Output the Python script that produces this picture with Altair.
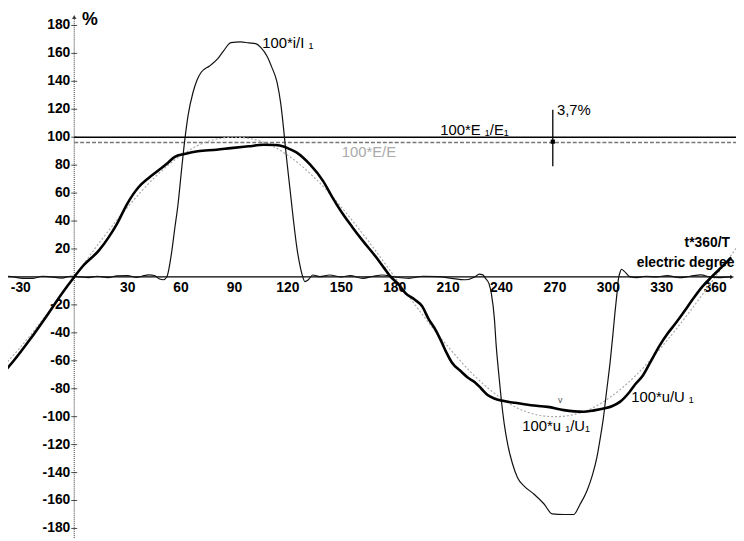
import altair as alt
import pandas as pd

# ---- data ----
# thick measured voltage 100*u/U1
u_deg = [-38, -34, -25, -15, -7, 0, 5, 13.9, 19.4, 24, 29.6, 36, 42, 47, 52, 56.5, 62, 69.4, 80, 88,
         98, 106.5, 113, 117.6, 121, 125, 132.4, 139.8, 145, 150.9, 156, 162, 169.4, 174, 177.8, 182,
         186, 191, 195.4, 199, 203, 206.5, 209, 212, 217.6, 221, 225, 228.7, 232.4, 236, 240, 247,
         256.5, 266, 275, 286, 292, 298, 302, 306.5, 311.9, 315, 319.4, 324, 328.7, 333, 338, 343,
         347.2, 352.8, 358, 362, 366, 369]
u_val = [-66, -60, -45, -27, -12, 0, 8, 19, 28.5, 38, 52, 64, 71, 76, 81, 86, 88, 90, 91, 92.2,
         93.5, 94.6, 94.4, 93.4, 91.5, 89, 80.5, 68.6, 57, 45, 36, 26, 14.4, 6.5, 0, -5,
         -11.6, -16, -21, -30, -38, -47, -54, -61, -68, -72, -75.3, -80, -84.7, -87, -88.5, -90,
         -91.8, -93, -95.3, -96.5, -95.5, -94, -92.5, -89.4, -82.3, -77, -70.5, -60, -49.3, -41, -32.8, -24,
         -16.3, -6.9, 0, 5, 10, 14]

# current 100*i/I1
i_deg = [-38, -34, -29, -23, -18, -13, -7, -2, 3, 8, 13, 19, 24, 30, 35, 38, 42, 45, 48, 50, 52,
         54.6, 56.5, 58.3, 60.2, 62, 64, 66.7, 69, 71.3, 76, 80.5, 84, 88, 93.5, 98, 101.9, 105,
         108.3, 111, 113.9, 116, 117.6, 119, 121.3, 123, 125, 126.5, 127.8, 129.6, 131.5, 134, 138,
         143.5, 150, 155, 162, 168, 173, 180, 188, 196, 204.6, 212, 219.4, 225, 227.5, 229.5, 231,
         233, 234.3, 236, 237, 238.5, 239.8, 241.5, 243.5, 246, 249, 253, 258.3, 263.9, 268.5, 275,
         280.6, 284, 288, 291, 293.5, 295.5, 297.2, 299, 301, 302.5, 303.7, 305, 305.6, 306.5, 307.4,
         309, 312, 316, 321, 327, 333, 340, 346, 352, 357, 362, 369]
i_val = [0.5, 0, -1, -1, 0.5, 0, -0.8, 0.5, 0, -0.5, 0.5, -0.5, 0.8, 1, -0.3, 0.5, 1.5, 1, -1.5, -2, 0,
         16.7, 35, 52, 75.7, 97, 116, 132, 141, 146.5, 151, 156, 162, 167.7, 168.2, 167.5, 167, 164,
         158, 150, 139.4, 124, 106, 88, 61.6, 42, 21.4, 10, 2.6, -3.3, -2, 1.4, 0.2,
         1.4, 0, 1, -1, 0.5, 1.4, 0, -1, 0.5, 0.2, -1, -2, 0, 2, 1.5, -1,
         -5, -12, -30, -49, -70, -87, -105, -120, -133, -143.7, -150, -155.5, -162.5, -169.6, -170,
         -170, -163, -153, -142, -129.5, -115, -101, -82, -61, -42, -25.7, -10, -2, 3, 5.5,
         4, 0.2, -0.5, 0.5, 0, 1, -0.5, 0.5, 1.5, 0, -0.5, 0]

# fundamental 100*u1/U1 (thin grey)
u1_deg = [-45, -30, -15, 0, 15, 30, 45, 60, 75, 90, 105, 120, 135, 150, 165, 180, 195, 210, 225,
          240, 255, 270, 285, 300, 315, 330, 345, 360, 375]
u1_val = [-71, -50, -26, 0, 26, 50, 71, 87, 97, 100, 97, 87, 71, 50, 26, 0, -26, -50, -71,
          -87, -97, -100, -97, -87, -71, -50, -26, 0, 26]

x_ticks = [-30, 30, 60, 90, 120, 150, 180, 210, 240, 270, 300, 330, 360]
y_ticks = [180, 160, 140, 120, 100, 80, 60, 40, 20, -20, -40, -60, -80, -100, -120, -140, -160, -180]

e1_level = 100
e_hat_level = 96.3

# ---- scales ----
XD = [-37.2, 371.7]
YD = [-186.9, 190.4]
xs = alt.Scale(domain=XD, nice=False, zero=False)
ys = alt.Scale(domain=YD, nice=False, zero=False)
FONT = "Liberation Sans"


def X(v):
    return alt.XDatum(v, type="quantitative", scale=xs, axis=None)


def Y(v):
    return alt.YDatum(v, type="quantitative", scale=ys, axis=None)


def line(deg, val, **kw):
    df = pd.DataFrame({"deg": deg, "val": val})
    return alt.Chart(df).mark_line(interpolate="monotone", clip=True, **kw).encode(
        x=alt.X("deg:Q", scale=xs, axis=None),
        y=alt.Y("val:Q", scale=ys, axis=None),
    )


def label(txt, x, y, **kw):
    opts = dict(font=FONT, fontSize=15, align="left", baseline="middle", color="#000")
    opts.update(kw)
    return alt.Chart().mark_text(text=txt, **opts).encode(x=X(x), y=Y(y))


layers = []

# axes
layers.append(alt.Chart().mark_rule(color="#000", strokeWidth=1.3).encode(
    x=X(XD[0]), x2=alt.X2Datum(369.5), y=Y(0)))
layers.append(alt.Chart().mark_rule(color="#333", strokeWidth=1, strokeDash=[1, 1]).encode(
    x=X(0), y=Y(YD[0]), y2=alt.Y2Datum(186)))
layers.append(alt.Chart().mark_point(shape="triangle-up", size=22, filled=True, color="#000").encode(
    x=X(0), y=Y(186)))
layers.append(alt.Chart().mark_point(shape="triangle-right", size=22, filled=True, color="#000").encode(
    x=X(369.5), y=Y(0)))

ydf = pd.DataFrame({"t": y_ticks, "lab": [str(v) for v in y_ticks]})
layers.append(alt.Chart(ydf).mark_point(shape="stroke", size=36, strokeWidth=1, color="#000").encode(
    x=X(0), y=alt.Y("t:Q", scale=ys, axis=None)))
layers.append(alt.Chart(ydf).mark_text(font=FONT, fontSize=14, fontWeight="bold", align="right",
                                       baseline="middle", dx=-4).encode(
    x=X(0), y=alt.Y("t:Q", scale=ys, axis=None), text="lab:N"))

xdf = pd.DataFrame({"t": x_ticks, "lab": [str(v) for v in x_ticks]})
layers.append(alt.Chart(xdf).mark_text(font=FONT, fontSize=14, fontWeight="bold", align="center",
                                       baseline="middle", dy=11).encode(
    x=alt.X("t:Q", scale=xs, axis=None), y=Y(0), text="lab:N"))

# reference levels
layers.append(alt.Chart().mark_rule(color="#000", strokeWidth=1.5).encode(
    x=X(0), x2=alt.X2Datum(XD[1]), y=Y(e1_level)))
layers.append(alt.Chart().mark_rule(color="#777", strokeWidth=1.5, strokeDash=[4, 2]).encode(
    x=X(0), x2=alt.X2Datum(XD[1]), y=Y(e_hat_level)))
layers.append(alt.Chart().mark_rule(color="#000", strokeWidth=1.3).encode(
    x=X(268.8), y=Y(79.3), y2=alt.Y2Datum(119.6)))
layers.append(alt.Chart().mark_square(size=18, color="#000", opacity=1).encode(
    x=X(268.8), y=Y(96.8)))

# curves
layers.append(line(u1_deg, u1_val, color="#aaa", strokeWidth=1.2, strokeDash=[2, 2]))
layers.append(line(i_deg, i_val, color="#111", strokeWidth=1.2))
layers.append(line(u_deg, u_val, color="#000", strokeWidth=2.6))

# texts
layers.append(label("%", 4.4, 184, fontSize=18, fontWeight="bold"))
layers.append(label("100*i/I  \u2081", 105.6, 167.7))
layers.append(label("100*E \u2081/E\u2081", 205.6, 105.2))
layers.append(label("3,7%", 271.1, 119.4))
layers.append(label("100*E/E", 150.2, 89.5, color="#aaa"))
layers.append(label("t*360/T", 368.3, 24, align="right", fontWeight="bold", fontSize=14))
layers.append(label("electric degree", 370.8, 10, align="right", fontWeight="bold", fontSize=14))
layers.append(label("100*u/U  \u2081", 312.8, -85.6))
layers.append(label("100*u \u2081/U\u2081", 251.7, -106.9))
layers.append(label("v", 273, -88, fontSize=9, color="#555", align="center"))

chart = alt.layer(*layers).properties(
    width=736, height=533, padding=0,
    autosize=alt.AutoSizeParams(type="none"),
).configure_view(stroke=None)

chart.save("out.html", embed_options={"renderer": "svg", "actions": False})
